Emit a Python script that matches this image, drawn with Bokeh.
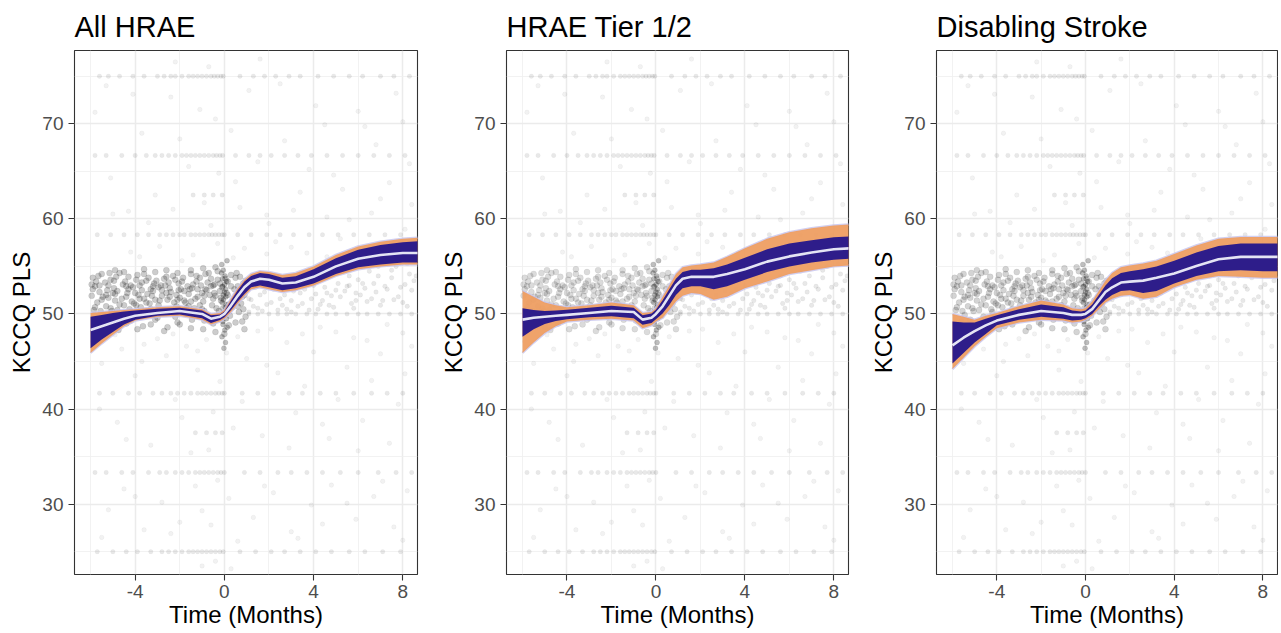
from bokeh.plotting import figure
from bokeh.layouts import row
from bokeh.models import FixedTicker, PrintfTickFormatter
from bokeh.embed import file_html
from bokeh.resources import INLINE

# ---------------- data ----------------
titles = ["All HRAE", "HRAE Tier 1/2", "Disabling Stroke"]
x_ticks = [-4, 0, 4, 8]
x_minor = [-6, -2, 2, 6]
y_ticks = [30, 40, 50, 60, 70]
y_minor = [25, 35, 45, 55, 65, 75]

# posterior curve knots (Time, months)
knot_x = [-6, -5.5, -5, -4.5, -4, -3, -2, -1, -0.6, -0.2, 0, 0.3, 0.6, 0.9, 1.2, 1.6, 2.0, 2.6, 3.2, 4, 5, 6, 7, 8, 8.7]

# panel 1: All HRAE
p1_mean = [48.3, 48.7, 49.1, 49.5, 49.8, 50.1, 50.3, 50.0, 49.5, 49.7, 50.0, 50.9, 51.9, 52.8, 53.4, 53.7, 53.6, 53.2, 53.3, 53.9, 55.0, 55.8, 56.2, 56.4, 56.4]
p1_out_hi = [50.1, 50.2, 50.3, 50.4, 50.5, 50.7, 50.8, 50.5, 50.0, 50.1, 50.4, 51.6, 52.7, 53.6, 54.2, 54.5, 54.4, 54.1, 54.3, 55.0, 56.2, 57.1, 57.6, 57.9, 58.0]
p1_out_lo = [45.9, 46.9, 47.8, 48.7, 49.3, 49.7, 49.8, 49.4, 48.9, 49.2, 49.5, 50.2, 51.1, 51.9, 52.6, 52.8, 52.6, 52.3, 52.5, 53.0, 54.0, 54.7, 55.0, 55.2, 55.2]
p1_in_hi = [49.7, 49.9, 50.1, 50.25, 50.35, 50.55, 50.65, 50.35, 49.85, 49.95, 50.25, 51.4, 52.5, 53.4, 54.0, 54.3, 54.2, 53.8, 53.95, 54.7, 55.85, 56.75, 57.25, 57.55, 57.65]
p1_in_lo = [46.4, 47.3, 48.1, 48.9, 49.4, 49.8, 49.95, 49.55, 49.05, 49.35, 49.65, 50.4, 51.3, 52.1, 52.8, 53.0, 52.8, 52.5, 52.7, 53.2, 54.2, 54.9, 55.2, 55.4, 55.4]

# panel 2: HRAE Tier 1/2
p2_mean = [49.4, 49.6, 49.7, 49.8, 49.9, 50.1, 50.3, 50.2, 49.4, 49.6, 50.0, 50.8, 51.9, 53.0, 53.7, 53.9, 53.9, 53.9, 54.2, 54.7, 55.5, 56.05, 56.45, 56.8, 56.9]
p2_out_hi = [52.4, 51.8, 51.2, 50.9, 50.7, 50.9, 51.2, 50.9, 50.1, 50.2, 50.6, 51.8, 53.0, 54.2, 54.9, 55.1, 55.2, 55.4, 56.0, 56.9, 57.9, 58.6, 59.0, 59.3, 59.4]
p2_out_lo = [45.9, 47.0, 48.0, 48.7, 49.2, 49.4, 49.5, 49.3, 48.5, 48.8, 49.2, 49.6, 50.4, 51.3, 51.9, 52.2, 52.1, 51.5, 51.8, 52.7, 53.4, 54.2, 54.6, 55.0, 55.1]
p2_in_hi = [50.6, 50.4, 50.3, 50.35, 50.45, 50.65, 50.85, 50.65, 49.85, 50.05, 50.45, 51.45, 52.6, 53.7, 54.4, 54.65, 54.65, 54.8, 55.2, 55.9, 56.8, 57.4, 57.75, 58.05, 58.15]
p2_in_lo = [47.6, 48.4, 48.95, 49.25, 49.45, 49.65, 49.75, 49.55, 48.85, 49.05, 49.45, 50.05, 50.95, 52.0, 52.7, 52.9, 52.9, 52.6, 52.9, 53.6, 54.4, 55.0, 55.4, 55.7, 55.8]

# panel 3: Disabling Stroke
p3_mean = [46.7, 47.5, 48.2, 48.8, 49.3, 49.9, 50.3, 50.1, 49.9, 49.9, 50.0, 50.5, 51.4, 52.3, 52.8, 53.3, 53.4, 53.5, 53.8, 54.25, 55.05, 55.75, 56.0, 56.0, 56.0]
p3_out_hi = [50.0, 49.7, 49.4, 49.8, 50.1, 50.8, 51.4, 51.0, 50.6, 50.5, 50.6, 51.3, 52.4, 53.5, 54.3, 54.9, 55.1, 55.3, 55.6, 56.3, 57.2, 57.9, 58.1, 58.1, 58.1]
p3_out_lo = [44.2, 45.4, 46.6, 47.6, 48.5, 49.1, 49.4, 49.3, 49.1, 49.2, 49.4, 49.8, 50.5, 51.2, 51.6, 51.9, 52.0, 51.6, 51.8, 52.8, 53.6, 54.0, 53.9, 53.8, 53.8]
p3_in_hi = [49.2, 49.1, 49.1, 49.5, 49.85, 50.5, 51.0, 50.7, 50.35, 50.25, 50.35, 51.0, 52.0, 53.0, 53.75, 54.3, 54.5, 54.7, 55.0, 55.6, 56.45, 57.15, 57.4, 57.4, 57.4]
p3_in_lo = [44.8, 45.9, 47.0, 47.9, 48.8, 49.4, 49.7, 49.5, 49.3, 49.4, 49.55, 50.0, 50.8, 51.5, 52.0, 52.4, 52.5, 52.2, 52.4, 53.2, 54.0, 54.5, 54.6, 54.5, 54.5]

# observed scores: dense pre-event cloud
cloud_x = [-5.9, -5.5, -5.1, -4.7, -4.3, -3.9, -3.5, -3.1, -2.7, -2.3, -1.9, -1.5, -1.1, -0.7, -0.3, 0.3, 0.7,
           -5.8, -5.35, -4.95, -4.55, -4.1, -3.7, -3.3, -2.85, -2.45, -2.05, -1.65, -1.25, -0.85, -0.45, -0.1, 0.45, 0.85,
           -5.95, -5.6, -5.2, -4.8, -4.4, -4.0, -3.6, -3.2, -2.8, -2.4, -2.0, -1.6, -1.2, -0.8, -0.4, 0.1, 0.55, 0.9,
           -5.7, -5.3, -4.9, -4.5, -4.15, -3.75, -3.35, -2.95, -2.55, -2.15, -1.75, -1.35, -0.95, -0.55, -0.15, 0.35, 0.75,
           -5.85, -5.45, -5.05, -4.6, -4.25, -3.8, -3.4, -3.0, -2.6, -2.2, -1.8, -1.4, -1.0, -0.6, -0.25, 0.25, 0.65, 0.95,
           -5.6, -5.0, -4.4, -3.9, -3.3, -2.7, -2.1, -1.5, -0.9, -0.4, 0.2, 0.8,
           -5.75, -5.25, -4.85, -4.35, -3.95, -3.45, -3.05, -2.6, -2.2, -1.8, -1.4, -1.0, -0.6, -0.2, 0.15, 0.6,
           -5.5, -5.1, -4.7, -4.2, -3.8, -3.3, -2.9, -2.5, -2.1, -1.7, -1.3, -0.9, -0.5, -0.05, 0.4, 0.85]
cloud_y = [53.8, 54.2, 53.6, 54.3, 53.9, 54.1, 53.5, 54.4, 53.7, 54.0, 53.4, 54.2, 53.8, 54.3, 53.6, 54.1, 53.9,
           52.9, 53.3, 52.7, 53.1, 52.8, 53.3, 52.6, 53.0, 52.7, 53.2, 52.9, 53.4, 52.6, 53.1, 52.8, 52.6, 53.2,
           51.9, 52.3, 51.7, 52.4, 51.8, 52.2, 51.6, 52.4, 51.9, 52.3, 51.7, 52.1, 51.8, 52.5, 51.9, 52.2, 51.7, 52.4,
           51.2, 50.8, 51.4, 50.9, 51.3, 50.7, 51.1, 50.9, 51.5, 50.8, 51.2, 50.6, 51.3, 50.9, 51.4, 50.7, 51.1,
           50.4, 49.9, 50.3, 49.7, 50.5, 49.8, 50.2, 49.6, 50.1, 49.7, 50.4, 49.9, 50.5, 49.7, 50.3, 49.8, 50.2, 49.7,
           49.2, 48.6, 49.0, 48.4, 48.9, 48.2, 49.1, 48.5, 49.3, 48.1, 48.8, 49.2,
           53.4, 52.5, 53.9, 52.2, 53.6, 52.1, 53.5, 52.2, 53.6, 52.4, 53.1, 52.2, 53.7, 52.4, 53.4, 52.9,
           51.5, 50.6, 51.0, 50.2, 51.6, 50.5, 51.4, 50.4, 51.5, 50.6, 51.6, 50.3, 51.6, 50.6, 51.4, 50.5]
cloud2_x = [-5.95, -5.65, -5.3, -4.95, -4.6, -4.3, -3.95, -3.6, -3.25, -2.95, -2.6, -2.25, -1.95, -1.6, -1.25, -0.9,
            -0.6, -0.35, 0.05, 0.45, 0.7, 0.95,
            -5.8, -5.45, -5.15, -4.8, -4.45, -4.05, -3.7, -3.4, -3.1, -2.75, -2.45, -2.1, -1.8, -1.45, -1.1, -0.75,
            -0.45, -0.3, 0.2, 0.5, 0.8,
            -5.9, -5.55, -5.2, -4.9, -4.5, -4.2, -3.85, -3.5, -3.15, -2.8, -2.5, -2.15, -1.85, -1.5, -1.2, -0.85,
            -0.5, -0.15, 0.3, 0.6, 0.9,
            -5.7, -5.2, -4.75, -4.2, -3.65, -3.1, -2.55, -2.0, -1.45, -0.95, -0.5, 0.0, 0.5, 0.9,
            -5.6, -5.0, -4.4, -3.8, -3.2, -2.65, -2.05, -1.55, -1.05, -0.65, -0.2, 0.15, 0.55,
            -1.5, -0.95, -0.4, -2.6, -3.6, -4.9]
cloud2_y = [53.1, 54.0, 52.0, 53.5, 51.6, 52.6, 50.9, 54.2, 51.9, 52.8, 53.9, 51.2, 52.6, 50.8, 54.0, 51.9,
            52.9, 50.6, 53.7, 51.3, 52.5, 53.5,
            50.7, 51.8, 54.3, 50.4, 53.4, 51.1, 52.5, 53.8, 51.5, 50.3, 51.8, 54.3, 51.4, 52.7, 50.9, 53.3,
            52.2, 54.5, 51.0, 53.8, 51.8,
            52.6, 50.3, 53.0, 52.1, 54.4, 53.0, 52.0, 51.2, 53.2, 52.5, 53.3, 52.0, 53.8, 51.3, 52.6, 54.2,
            53.0, 51.7, 52.9, 50.8, 52.0,
            48.9, 49.4, 48.3, 49.3, 48.7, 49.4, 48.6, 48.9, 49.4, 48.4, 49.0, 47.9, 49.1, 48.4,
            53.0, 52.2, 52.9, 53.0, 52.9, 53.0, 52.5, 52.6, 53.0, 52.0, 53.2, 52.0, 54.3,
            54.6, 54.8, 54.9, 54.6, 54.7, 54.6]

# observed scores: visit-window streak at time 0
streak_x = [-0.12, -0.05, 0.03, 0.1, -0.08, 0.0, 0.07, -0.1, 0.04, -0.03, 0.09, -0.06, 0.02, -0.11, 0.05, -0.02,
            0.12, -0.09, 0.06, -0.04, 0.11, -0.07, 0.01, -0.13, 0.08, -0.01, 0.13, -0.05]
streak_y = [55.2, 54.6, 54.0, 53.4, 52.9, 52.3, 51.8, 51.2, 50.7, 50.1, 49.5, 48.9, 48.3, 47.6, 47.0, 46.4,
            55.6, 53.7, 52.6, 51.5, 50.4, 49.2, 53.1, 54.3, 51.0, 49.8, 48.6, 52.0]

# observed scores after the event
post_x = [1.2, 1.5, 1.8, 2.1, 2.4, 2.7, 3.0, 3.3, 3.6, 3.9, 4.2, 4.5, 4.8, 5.1, 5.4, 5.7, 6.0, 6.3, 6.6, 6.9, 7.2, 7.5,
          7.8, 8.1, 8.4, 1.4, 2.0, 2.6, 3.4, 4.0, 4.7, 5.3, 5.9, 6.5, 7.1, 7.7, 8.3, 1.1, 2.9, 4.4, 5.6, 6.8, 8.0,
          1.3, 1.6, 1.9, 2.2, 2.5, 2.8, 3.1, 3.5, 3.8, 4.1, 4.3, 4.6, 4.9, 5.2, 5.5, 5.8, 6.1, 6.4, 6.7, 7.0,
          7.3, 7.6, 7.9, 8.2, 8.5, 1.7, 2.3, 3.0, 3.7, 4.5, 5.0, 5.6, 6.2, 6.9, 7.5, 8.2, 8.6, 5.9, 3.4, 1.1]
post_y = [51.5, 50.6, 52.3, 51.2, 50.4, 52.0, 51.4, 50.8, 52.6, 51.6, 50.5, 52.8, 51.9, 53.2, 52.4, 51.1, 53.6, 52.7,
          51.6, 54.0, 52.9, 53.8, 51.8, 53.1, 52.5, 52.8, 53.0, 50.9, 52.2, 53.0, 50.9, 54.6, 52.2, 54.5, 51.4, 55.0,
          54.2, 50.2, 53.6, 51.4, 53.0, 52.3, 51.2,
          50.8, 52.0, 51.0, 52.6, 51.6, 50.5, 52.4, 51.1, 50.4, 52.1, 51.0, 52.2, 50.7, 51.8, 52.9, 50.6, 52.0, 51.3,
          53.2, 50.9, 52.6, 51.5, 52.8, 50.8, 53.5, 50.3, 53.4, 50.2, 53.3, 53.8, 52.5, 54.0, 53.2, 55.0, 54.6, 55.3,
          54.0, 51.4, 53.9, 51.6]

# discrete KCCQ score levels (rows of observations)
row_levels = [75.0, 66.67, 62.5, 58.33, 50.0, 41.67, 37.5, 33.33, 25.0]
row_75 = [-5.6, -5.2, -4.7, -4.1, -3.6, -3.0, -2.7, -2.4, -2.2, -1.9, -1.6, -1.4, -1.2, -1.0, -0.8, -0.6, -0.45,
          -0.3, -0.15, -0.05, 0.7, 1.3, 1.8, 2.3, 2.9, 3.4, 4.2, 4.9, 5.6, 6.2, 7.0, 7.6, 8.3]
row_6667 = [-5.8, -5.3, -4.6, -4.0, -3.5, -3.1, -2.8, -2.5, -2.2, -1.9, -1.7, -1.5, -1.3, -1.1, -0.9, -0.7, -0.5,
            -0.35, -0.2, -0.08, 0.5, 1.1, 1.6, 2.1, 2.7, 3.3, 3.9, 4.6, 5.3, 6.0, 6.7, 7.4, 8.1]
row_625 = [-1.4, -0.9, -0.5, -0.1]
row_5833 = [-5.7, -5.1, -4.5, -3.9, -3.4, -2.9, -2.6, -2.3, -2.0, -1.8, -1.5, -1.3, -1.1, -0.9, -0.7, -0.55, -0.4,
            -0.25, -0.1, 0.0, 0.6, 1.2, 1.9, 2.5, 3.1, 3.8, 4.4, 5.1, 5.8, 6.5, 7.2, 7.9]
row_50 = [1.1, 1.5, 2.0, 2.4, 2.8, 3.2, 3.7, 4.1, 4.6, 5.0, 5.5, 6.0, 6.4, 6.9, 7.4, 7.9, 8.4]
row_4167 = [-5.6, -5.0, -4.3, -3.8, -3.2, -2.8, -2.4, -2.1, -1.8, -1.5, -1.2, -1.0, -0.8, -0.6, -0.4, -0.25, -0.1,
            0.0, 0.8, 1.5, 2.2, 2.9, 3.5, 4.3, 5.0, 5.8, 6.6, 7.3, 8.0]
row_375 = [-1.3, -0.8, -0.4, -0.1]
row_3333 = [-5.8, -5.3, -4.6, -4.1, -3.4, -2.9, -2.6, -2.2, -1.9, -1.6, -1.3, -1.1, -0.9, -0.7, -0.5, -0.3, -0.15,
            0.0, 0.9, 1.6, 2.4, 3.0, 3.7, 4.4, 5.2, 6.0, 6.9, 7.7, 8.4]
row_25 = [-5.7, -5.0, -4.4, -3.9, -3.3, -2.8, -2.5, -2.2, -1.9, -1.6, -1.4, -1.2, -1.0, -0.8, -0.6, -0.4, -0.2,
          -0.05, 0.7, 1.4, 2.1, 2.7, 3.4, 4.1, 4.8, 5.6, 6.3, 7.1, 7.9]
row_x_lists = [row_75, row_6667, row_625, row_5833, row_50, row_4167, row_375, row_3333, row_25]

# scattered observations
sparse_x = [-5.8, -5.1, -4.3, -3.7, -3.1, -2.4, -1.6, -0.9, -0.4, 0.5, 1.1, 1.9, 2.7, 3.4, 4.1, 4.9, 5.6, 6.3, 7.0, 7.7, 8.3,
            -5.5, -4.8, -4.0, -3.3, -2.6, -1.9, -1.2, -0.7, -0.2, 0.4, 1.0, 1.7, 2.4, 3.2, 4.0, 4.7, 5.5, 6.2, 7.0, 7.8, 8.4,
            -5.2, -4.5, -3.6, -2.8, -2.0, -1.3, -0.6, 0.2, 1.3, 2.2, 3.0, 3.9, 4.8, 5.9, 6.7, 7.6, 8.2,
            -4.2, -2.9, -1.4, -0.3, 0.9, 2.3, 3.7, 5.2, 6.9, 8.1,
            -5.9, -4.6, -3.0, -1.7, -0.8, 1.5, 2.8, 4.3, 5.8, 7.3,
            -1.0, -0.4, 0.3, -2.2, -0.7, 1.6,
            -5.3, -4.1, -2.0, -1.1, -0.25, 0.3, 1.5, 2.5, 3.8, 4.5, 5.3, 6.0, 6.8, 7.4, 8.0,
            -5.0, -3.4, -2.3, -0.6, 0.7, 2.0, 3.1, 4.6, 6.6, 8.4,
            -5.6, -4.4, -3.7, -2.2, -1.5, -0.5, 0.1, 0.8, 1.9, 2.9, 3.6, 4.4, 5.1, 6.0, 6.6, 7.4, 8.1,
            -5.5, -4.0, -2.4, -1.0, -0.3, 0.6, 1.8, 3.3, 4.4, 5.5, 7.1, 8.0,
            -4.9, -3.6, -2.3, -1.2, 0.6, 2.1, 3.5, 5.0, 6.4, 8.0,
            -3.8, -1.9, 0.4, 1.9, 3.0, 4.6]
sparse_y = [71.2, 64.3, 60.8, 69.0, 62.5, 72.8, 65.5, 61.7, 70.5, 63.9, 73.5, 60.4, 68.2, 62.8, 71.9, 64.6, 59.9, 69.7, 62.1, 73.2, 65.8,
            44.8, 38.6, 43.5, 36.2, 45.6, 39.1, 44.1, 35.7, 42.9, 38.0, 45.3, 37.2, 43.8, 39.6, 46.0, 36.9, 44.4, 38.8, 45.8, 40.5, 46.6,
            29.4, 31.6, 27.3, 30.2, 28.1, 31.9, 27.8, 30.6, 28.6, 31.2, 27.1, 29.9, 32.0, 28.4, 30.8, 27.6, 31.4,
            56.5, 57.1, 56.2, 57.4, 56.9, 57.6, 56.4, 57.9, 57.2, 58.9,
            47.1, 46.3, 47.4, 46.6, 47.3, 48.2, 47.0, 48.6, 47.5, 48.9,
            23.5, 24.0, 23.2, 76.5, 76.0, 76.8,
            74.0, 73.1, 68.4, 71.5, 64.8, 69.3, 66.0, 74.2, 65.2, 69.9, 63.1, 71.3, 67.8, 63.8, 70.2,
            60.5, 59.6, 61.0, 59.3, 61.2, 59.5, 60.9, 60.2, 60.6, 61.5,
            40.0, 36.8, 45.0, 41.0, 35.4, 39.7, 45.9, 40.8, 44.6, 35.9, 42.4, 38.4, 41.0, 35.6, 43.0, 36.4, 43.7,
            26.5, 30.8, 26.9, 29.3, 32.5, 26.1, 31.9, 26.4, 27.9, 30.1, 32.4, 26.2,
            47.8, 46.8, 47.9, 46.1, 47.6, 48.4, 47.9, 48.1, 47.2, 48.0,
            56.0, 55.6, 55.9, 56.3, 57.0, 56.0]

panel_means = [p1_mean, p2_mean, p3_mean]
panel_out_hi = [p1_out_hi, p2_out_hi, p3_out_hi]
panel_out_lo = [p1_out_lo, p2_out_lo, p3_out_lo]
panel_in_hi = [p1_in_hi, p2_in_hi, p3_in_hi]
panel_in_lo = [p1_in_lo, p2_in_lo, p3_in_lo]
panel_cloud_alpha = [0.2, 0.14, 0.17]

# ---------------- styling / layout ----------------
FONT = "Liberation Sans"
widths = [436, 430, 412]
borders_left = [74, 70, 70]
borders_right = [19, 18, 1]
FIG_H = 631
ORANGE = "#EE9E62"
NAVY = "#23168C"
HALO = "#C6C3EE"


def make_panel(i):
    p = figure(width=widths[i], height=FIG_H, x_range=(-6.72, 8.66), y_range=(22.6, 77.7),
               output_backend="svg", toolbar_location=None,
               min_border_left=borders_left[i], min_border_right=borders_right[i],
               min_border_top=50, min_border_bottom=57, title=titles[i])
    p.title.text_font = FONT
    p.title.text_font_size = "29px"
    p.title.text_font_style = "normal"
    p.title.text_color = "black"
    p.title.align = "left"
    p.title.offset = 0
    p.title.standoff = 15

    p.outline_line_color = "#333333"
    p.outline_line_width = 1.1
    p.background_fill_color = "white"
    p.border_fill_color = "white"

    p.xaxis.ticker = FixedTicker(ticks=x_ticks, minor_ticks=x_minor)
    p.yaxis.ticker = FixedTicker(ticks=y_ticks, minor_ticks=y_minor)
    for ax in (p.xaxis, p.yaxis):
        ax.formatter = PrintfTickFormatter(format="%d")
        ax.axis_line_color = None
        ax.minor_tick_line_color = None
        ax.major_tick_out = 6
        ax.major_tick_in = 0
        ax.major_tick_line_color = "#333333"
        ax.major_tick_line_width = 1.1
        ax.major_label_text_font = FONT
        ax.major_label_text_font_size = "19px"
        ax.major_label_text_color = "#4D4D4D"
        ax.axis_label_text_font = FONT
        ax.axis_label_text_font_size = "24px"
        ax.axis_label_text_font_style = "normal"
        ax.axis_label_text_color = "black"
        ax.major_label_standoff = 5
    p.xaxis.axis_label = "Time (Months)"
    p.yaxis.axis_label = "KCCQ PLS"
    p.xaxis.major_label_standoff = 4
    p.xaxis.axis_label_standoff = 0
    p.yaxis.axis_label_standoff = 4

    for g in (p.xgrid, p.ygrid):
        g.grid_line_color = "#EBEBEB"
        g.grid_line_width = 1.5
        g.minor_grid_line_color = "#EFEFEF"
        g.minor_grid_line_width = 0.8

    # observed points
    for lvl, xs in zip(row_levels, row_x_lists):
        p.scatter(xs, [lvl] * len(xs), size=4.5, marker="circle", fill_color="black", fill_alpha=0.09,
                  line_color="black", line_alpha=0.06, line_width=0.5)
    p.scatter(sparse_x, sparse_y, size=4.5, marker="circle", fill_color="black", fill_alpha=0.05,
              line_color="black", line_alpha=0.07, line_width=0.5)
    p.scatter(post_x, post_y, size=4.5, marker="circle", fill_color="black", fill_alpha=0.09,
              line_color="black", line_alpha=0.08, line_width=0.5)
    ca = panel_cloud_alpha[i]
    p.scatter(cloud_x + cloud2_x, cloud_y + cloud2_y, size=6, marker="circle", fill_color="black",
              fill_alpha=ca, line_color="black", line_alpha=ca * 0.8, line_width=0.5)
    p.scatter(streak_x, streak_y, size=5, marker="circle", fill_color="black", fill_alpha=0.25,
              line_color="black", line_alpha=0.18, line_width=0.5)

    # posterior bundle
    p.line(knot_x, panel_out_hi[i], line_color=HALO, line_width=2.5, line_alpha=0.8)
    p.line(knot_x, panel_out_lo[i], line_color=HALO, line_width=2.5, line_alpha=0.8)
    p.varea(x=knot_x, y1=panel_out_lo[i], y2=panel_out_hi[i], fill_color=ORANGE, fill_alpha=0.95)
    p.varea(x=knot_x, y1=panel_in_lo[i], y2=panel_in_hi[i], fill_color=NAVY, fill_alpha=0.95)
    p.line(knot_x, panel_means[i], line_color="#E4E4F4", line_width=2.6)
    return p


panels = [make_panel(i) for i in range(3)]
layout = row(*panels)
open("out.html", "w").write(file_html(layout, INLINE))
